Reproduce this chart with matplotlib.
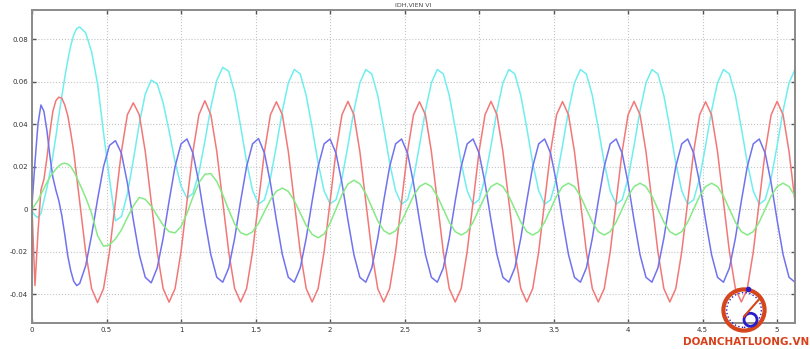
import numpy as np
import matplotlib
matplotlib.use('Agg')
import matplotlib.pyplot as plt
from matplotlib.patches import Circle

# time base: fine steps over the start-up, then 0.04 s steps
t = np.round(np.concatenate([np.arange(0, 0.33, 0.02), np.arange(0.36, 5.13, 0.04)]), 2)

# values (first 17 = start-up, then 10 rows of 12 per cycle)
red = [0.000, -0.036, -0.011, 0.009, 0.014, 0.024, 0.036, 0.046, 0.051, 0.0527, 0.0522, 0.049, 0.044, 0.036, 0.027, 0.015, 0.0035,
       -0.0201, -0.0374, -0.0440, -0.0374, -0.0201, 0.0035, 0.0271, 0.0444, 0.0500, 0.0444, 0.0271, 0.0035,
       -0.0201, -0.0374, -0.0438, -0.0374, -0.0201, 0.0035, 0.0271, 0.0444, 0.0510, 0.0444, 0.0271, 0.0035,
       -0.0201, -0.0374, -0.0437, -0.0374, -0.0201, 0.0035, 0.0271, 0.0444, 0.0505, 0.0444, 0.0271, 0.0035,
       -0.0201, -0.0374, -0.0437, -0.0374, -0.0201, 0.0035, 0.0271, 0.0444, 0.0507, 0.0444, 0.0271, 0.0035,
       -0.0201, -0.0374, -0.0437, -0.0374, -0.0201, 0.0035, 0.0271, 0.0444, 0.0505, 0.0444, 0.0271, 0.0035,
       -0.0201, -0.0374, -0.0437, -0.0374, -0.0201, 0.0035, 0.0271, 0.0444, 0.0507, 0.0444, 0.0271, 0.0035,
       -0.0201, -0.0374, -0.0437, -0.0374, -0.0201, 0.0035, 0.0271, 0.0444, 0.0506, 0.0444, 0.0271, 0.0035,
       -0.0201, -0.0374, -0.0437, -0.0374, -0.0201, 0.0035, 0.0271, 0.0444, 0.0507, 0.0444, 0.0271, 0.0035,
       -0.0201, -0.0374, -0.0437, -0.0374, -0.0201, 0.0035, 0.0271, 0.0444, 0.0505, 0.0444, 0.0271, 0.0035,
       -0.0201, -0.0374, -0.0437, -0.0374, -0.0201, 0.0035, 0.0271, 0.0444, 0.0507, 0.0444, 0.0271, 0.0035]

cyan = [-0.001, -0.003, -0.004, -0.002, 0.004, 0.010, 0.017, 0.025, 0.034, 0.044, 0.053, 0.062, 0.070, 0.077, 0.082, 0.085, 0.0857,
        0.0830, 0.0740, 0.0590, 0.0360, 0.0140, -0.0055, -0.0035, 0.0071, 0.0231, 0.0403, 0.0541, 0.0607,
        0.0589, 0.0500, 0.0367, 0.0223, 0.0108, 0.0052, 0.0074, 0.0171, 0.0319, 0.0479, 0.0606, 0.0667,
        0.0649, 0.0546, 0.0390, 0.0222, 0.0088, 0.0023, 0.0044, 0.0145, 0.0298, 0.0463, 0.0594, 0.0657,
        0.0636, 0.0535, 0.0382, 0.0217, 0.0086, 0.0025, 0.0044, 0.0145, 0.0298, 0.0463, 0.0594, 0.0657,
        0.0636, 0.0535, 0.0382, 0.0217, 0.0086, 0.0023, 0.0044, 0.0145, 0.0298, 0.0463, 0.0594, 0.0657,
        0.0636, 0.0535, 0.0382, 0.0217, 0.0086, 0.0023, 0.0044, 0.0145, 0.0298, 0.0463, 0.0594, 0.0657,
        0.0636, 0.0535, 0.0382, 0.0217, 0.0086, 0.0023, 0.0044, 0.0145, 0.0298, 0.0463, 0.0594, 0.0657,
        0.0636, 0.0535, 0.0382, 0.0217, 0.0086, 0.0023, 0.0044, 0.0145, 0.0298, 0.0463, 0.0594, 0.0657,
        0.0636, 0.0535, 0.0382, 0.0217, 0.0086, 0.0023, 0.0044, 0.0145, 0.0298, 0.0463, 0.0594, 0.0657,
        0.0636, 0.0535, 0.0382, 0.0217, 0.0086, 0.0023, 0.0044, 0.0145, 0.0298, 0.0463, 0.0594, 0.0657]

blue = [0.002, 0.022, 0.040, 0.049, 0.046, 0.037, 0.025, 0.015, 0.009, 0.004, -0.003, -0.012, -0.022, -0.029, -0.034, -0.036, -0.035,
        -0.0267, -0.0123, 0.0046, 0.0200, 0.0300, 0.0322, 0.0263, 0.0123, -0.0052, -0.0214, -0.0321, -0.0347,
        -0.0277, -0.0137, 0.0038, 0.0200, 0.0307, 0.0330, 0.0263, 0.0123, -0.0052, -0.0214, -0.0321, -0.0344,
        -0.0277, -0.0137, 0.0038, 0.0200, 0.0307, 0.0332, 0.0263, 0.0123, -0.0052, -0.0214, -0.0321, -0.0344,
        -0.0277, -0.0137, 0.0038, 0.0200, 0.0307, 0.0330, 0.0263, 0.0123, -0.0052, -0.0214, -0.0321, -0.0344,
        -0.0277, -0.0137, 0.0038, 0.0200, 0.0307, 0.0330, 0.0263, 0.0123, -0.0052, -0.0214, -0.0321, -0.0344,
        -0.0277, -0.0137, 0.0038, 0.0200, 0.0307, 0.0330, 0.0263, 0.0123, -0.0052, -0.0214, -0.0321, -0.0344,
        -0.0277, -0.0137, 0.0038, 0.0200, 0.0307, 0.0330, 0.0263, 0.0123, -0.0052, -0.0214, -0.0321, -0.0344,
        -0.0277, -0.0137, 0.0038, 0.0200, 0.0307, 0.0330, 0.0263, 0.0123, -0.0052, -0.0214, -0.0321, -0.0344,
        -0.0277, -0.0137, 0.0038, 0.0200, 0.0307, 0.0330, 0.0263, 0.0123, -0.0052, -0.0214, -0.0321, -0.0344,
        -0.0277, -0.0137, 0.0038, 0.0200, 0.0307, 0.0330, 0.0263, 0.0123, -0.0052, -0.0214, -0.0321, -0.0344]

green = [0.000, 0.002, 0.004, 0.007, 0.0098, 0.0125, 0.0150, 0.0170, 0.0188, 0.0203, 0.0213, 0.0216, 0.0212, 0.0200, 0.0178, 0.0150, 0.0118,
         0.0055, -0.0020, -0.0125, -0.0175, -0.0168, -0.0140, -0.0098, -0.0040, 0.0015, 0.0055, 0.0046, 0.0014,
         -0.0031, -0.0076, -0.0106, -0.0112, -0.0082, -0.0020, 0.0057, 0.0124, 0.0164, 0.0167, 0.0130, 0.0068,
         -0.0004, -0.0070, -0.0111, -0.0122, -0.0107, -0.0067, -0.0012, 0.0044, 0.0084, 0.0099, 0.0083, 0.0040,
         -0.0018, -0.0077, -0.0119, -0.0135, -0.0117, -0.0067, 0.0000, 0.0068, 0.0118, 0.0136, 0.0119, 0.0073,
         0.0009, -0.0055, -0.0101, -0.0118, -0.0102, -0.0058, 0.0002, 0.0062, 0.0106, 0.0122, 0.0106, 0.0061,
         0.0000, -0.0061, -0.0106, -0.0122, -0.0106, -0.0061, 0.0000, 0.0061, 0.0106, 0.0122, 0.0106, 0.0061,
         0.0000, -0.0061, -0.0106, -0.0122, -0.0106, -0.0061, 0.0000, 0.0061, 0.0106, 0.0122, 0.0106, 0.0061,
         0.0000, -0.0061, -0.0106, -0.0122, -0.0106, -0.0061, 0.0000, 0.0061, 0.0106, 0.0122, 0.0106, 0.0061,
         0.0000, -0.0061, -0.0106, -0.0122, -0.0106, -0.0061, 0.0000, 0.0061, 0.0106, 0.0122, 0.0106, 0.0061,
         0.0000, -0.0061, -0.0106, -0.0122, -0.0106, -0.0061, 0.0000, 0.0061, 0.0106, 0.0122, 0.0106, 0.0061]

xticks = [0, 0.5, 1, 1.5, 2, 2.5, 3, 3.5, 4, 4.5, 5]
xticklabels = ['0', '0.5', '1', '1.5', '2', '2.5', '3', '3.5', '4', '4.5', '5']
yticks = [-0.04, -0.02, 0, 0.02, 0.04, 0.06, 0.08]
yticklabels = ['-0.04', '-0.02', '0', '0.02', '0.04', '0.06', '0.08']

fig = plt.figure(figsize=(8.1, 3.49), dpi=100)
ax = fig.add_axes([32 / 810, 1 - 323 / 349, 763 / 810, 313 / 349])

ax.plot(t, cyan, color='#70eeee', lw=1.1)
ax.plot(t, red, color='#f27878', lw=1.1)
ax.plot(t, blue, color='#7272ee', lw=1.1)
ax.plot(t, green, color='#86ea86', lw=1.1)

ax.set_xlim(0, 5.12)
ax.set_ylim(-0.0536, 0.0937)
ax.set_xticks(xticks)
ax.set_xticklabels(xticklabels)
ax.set_yticks(yticks)
ax.set_yticklabels(yticklabels)
ax.grid(True, linestyle=':', color='#c4c4c4', lw=0.8)
ax.tick_params(direction='in', length=3, width=1, colors='#555555', labelsize=5,
               top=True, right=True, pad=3, labelcolor='#333333')
for s in ax.spines.values():
    s.set_color('#8a8a8a')
    s.set_linewidth(1.4)
ax.set_title('IDH,VIEN VI', fontsize=4.5, color='#444444', pad=2)

# watermark logo
lax = fig.add_axes([716 / 810, 1 - 336 / 349, 56 / 810, 52 / 349])
lax.set_xlim(-1.2, 1.2)
lax.set_ylim(-1.2, 1.2)
lax.set_aspect('equal')
lax.axis('off')
lax.add_patch(Circle((0, 0), 0.95, fill=False, ec='#d6461c', lw=3))
lax.add_patch(Circle((0, 0), 0.8, fill=False, ec='#3020c0', lw=1, ls=':'))
lax.add_patch(Circle((0.3, -0.45), 0.3, fill=False, ec='#2a1cc8', lw=2))
lax.plot([0.0, 0.7], [-0.3, 0.5], color='#d6461c', lw=1.5)
lax.plot([0.2], [0.95], 'o', color='#2a1cc8', ms=3)
fig.text(746 / 810, 1 - 342 / 349, 'DOANCHATLUONG.VN', ha='center', va='center',
         fontsize=7.5, fontweight='bold', color='#d8401a')

plt.savefig('out.png', dpi=100)
